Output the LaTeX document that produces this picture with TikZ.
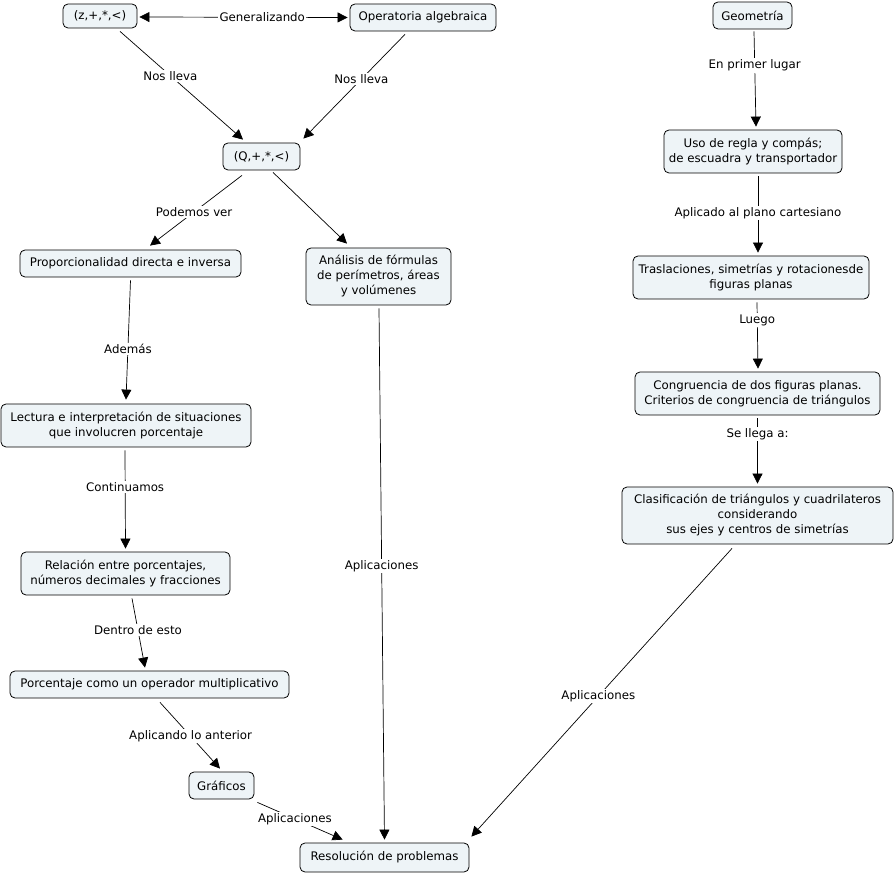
\documentclass[tikz,border=0pt]{standalone}
\usepackage{fontspec}
\setmainfont{DejaVu Sans}
\usetikzlibrary{arrows.meta,calc}
\definecolor{boxfill}{RGB}{238,244,247}
\begin{document}
\begin{tikzpicture}[x=1pt,y=-1pt,
  concept/.style={draw=black,line width=0.8pt,fill=boxfill,rounded corners=5pt,align=center,
    font=\fontsize{11.8}{15}\selectfont,inner sep=0pt},
  lbl/.style={fill=white,inner sep=1.5pt,font=\fontsize{11.8}{14}\selectfont},
  link/.style={line width=0.7pt,-{Triangle[length=10pt,width=10pt]}},
  link2/.style={line width=0.7pt,{Triangle[length=10pt,width=10pt]}-{Triangle[length=10pt,width=10pt]}}]
\useasboundingbox (0,0) rectangle (895,874);
% nodes
\node[concept,minimum width=74pt,minimum height=24pt] (z) at (100,16) {(z,+,*,<)};
\node[concept,minimum width=146pt,minimum height=27pt] (op) at (423,17.5) {Operatoria algebraica};
\node[concept,minimum width=77pt,minimum height=27pt] (Q) at (261.5,156.5) {(Q,+,*,<)};
\node[concept,minimum width=221pt,minimum height=27pt] (prop) at (130.5,263.5) {Proporcionalidad directa e inversa};
\node[concept,minimum width=145pt,minimum height=57pt] (anal) at (378.5,276.5) {Análisis de fórmulas\\de perímetros, áreas\\y volúmenes};
\node[concept,minimum width=250pt,minimum height=43pt] (lect) at (126,425.5) {Lectura e interpretación de situaciones\\que involucren porcentaje};
\node[concept,minimum width=209pt,minimum height=43pt] (rel) at (125.5,573.5) {Relación entre porcentajes,\\números decimales y fracciones};
\node[concept,minimum width=279pt,minimum height=27pt] (porc) at (149.5,684.5) {Porcentaje como un operador multiplicativo};
\node[concept,minimum width=65pt,minimum height=27pt] (graf) at (221.5,785.5) {Gráficos};
\node[concept,minimum width=169pt,minimum height=29pt] (res) at (384.5,857.5) {Resolución de problemas};
\node[concept,minimum width=79pt,minimum height=27pt] (geo) at (752.5,15.5) {Geometría};
\node[concept,minimum width=178pt,minimum height=43pt] (uso) at (753,151.5) {Uso de regla y compás;\\de escuadra y transportador};
\node[concept,minimum width=236pt,minimum height=43pt] (tras) at (751,277.5) {Traslaciones, simetrías y rotacionesde\\figuras planas};
\node[concept,minimum width=245pt,minimum height=43pt] (cong) at (757.5,393.5) {Congruencia de dos figuras planas.\\Criterios de congruencia de triángulos};
\node[concept,minimum width=271pt,minimum height=57pt] (clas) at (757.5,515.5) {Clasificación de triángulos y cuadrilateros\\considerando\\sus ejes y centros de simetrías};
% connectors
\draw[link2] ($(z.east)+(2,1)$) -- node[lbl,pos=0.59]{Generalizando} ($(op.west)+(-2,0)$);
\draw[link] ($(z.south)+(20,3)$) -- node[lbl,pos=0.41]{Nos lleva} ($(Q.north)+(-18.5,-3)$);
\draw[link] ($(op.south)+(-18,3)$) -- node[lbl,pos=0.43]{Nos lleva} ($(Q.north east)+(3,-4)$);
\draw[link] ($(Q.south)+(-19.5,5)$) -- node[lbl,pos=0.52]{Podemos ver} ($(prop.north)+(19.5,-4)$);
\draw[link] ($(Q.south)+(11.5,2)$) -- ($(anal.north)+(-31.5,-4)$);
\draw[link] ($(prop.south)+(0,3)$) -- node[lbl,pos=0.575]{Además} ($(lect.north)+(0,-4)$);
\draw[link] ($(lect.south)+(-1,3)$) -- node[lbl,pos=0.37]{Continuamos} ($(rel.north)+(0,-3)$);
\draw[link] ($(rel.south)+(6.5,3)$) -- node[lbl,pos=0.46]{Dentro de esto} ($(porc.north)+(-4.5,-3)$);
\draw[link] ($(porc.south)+(10.5,4)$) -- node[lbl,pos=0.51]{Aplicando lo anterior} ($(graf.north)+(-1.5,-3)$);
\draw[link] ($(graf.south east)+(3,3)$) -- node[lbl,pos=0.44]{Aplicaciones} ($(res.north west)+(43,-3)$);
\draw[link] ($(anal.south)+(0.5,3)$) -- node[lbl,pos=0.485]{Aplicaciones} ($(res.north)+(0,-3)$);
\draw[link] ($(clas.south)+(-25.5,4)$) -- node[lbl,pos=0.513]{Aplicaciones} ($(res.north east)+(2,-6)$);
\draw[link] ($(geo.south)+(1.5,2)$) -- node[lbl,pos=0.36]{En primer lugar} ($(uso.north)+(3,-3)$);
\draw[link] ($(uso.south)+(5,3)$) -- node[lbl,pos=0.48]{Aplicado al plano cartesiano} ($(tras.north)+(7,-3)$);
\draw[link] ($(tras.south)+(6,3)$) -- node[lbl,pos=0.27]{Luego} ($(cong.north)+(0.5,-3)$);
\draw[link] ($(cong.south)+(0,3)$) -- node[lbl,pos=0.24]{Se llega a:} ($(clas.north)+(0,-3)$);
\end{tikzpicture}
\end{document}
